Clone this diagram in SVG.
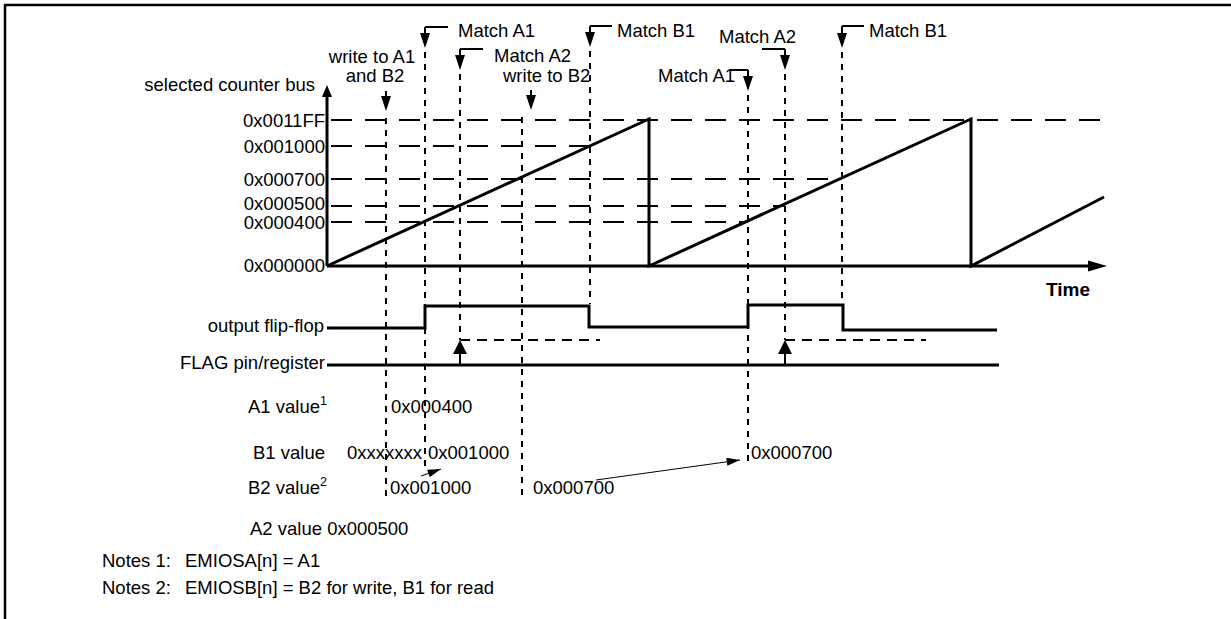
<svg xmlns="http://www.w3.org/2000/svg" width="1231" height="619" viewBox="0 0 1231 619">
<style>
text{font-family:"Liberation Sans",Arial,sans-serif;font-size:18.5px;fill:#000}
.sup{font-size:12.5px}
.b{font-weight:bold;font-size:19px}
.r{text-anchor:end}
.m{text-anchor:middle}
.frame{stroke:#000;stroke-width:2.5;fill:none}
.axis{stroke:#000;stroke-width:3;fill:none}
.wave{stroke:#000;stroke-width:3;fill:none;stroke-linejoin:miter}
.lvl{stroke:#000;stroke-width:2;stroke-dasharray:21 13;fill:none}
.vd{stroke:#000;stroke-width:2;stroke-dasharray:6 6;fill:none}
.hd{stroke:#000;stroke-width:2;stroke-dasharray:10 7;fill:none}
.ln{stroke:#000;stroke-width:2;fill:none}
.thin{stroke:#000;stroke-width:1;fill:none}
</style>
<defs>
<path id="hd" d="M-5,-15 L5,-15 L0,0 Z" fill="#000"/>
<path id="hu" d="M-7,14 L7,14 L0,0 Z" fill="#000"/>
<marker id="sa" viewBox="0 0 10 6" refX="10" refY="3" markerWidth="14" markerHeight="8" markerUnits="userSpaceOnUse" orient="auto">
<path d="M0,0 L10,3 L0,6 Z" fill="#000"/>
</marker>
</defs>

<g id="frame">
<path class="frame" d="M5,619 L5,5 L1231,5"/>
</g>

<g id="axes">
<path class="axis" d="M327,266 L327,96"/>
<path d="M322,97 L332,97 L327,85 Z" fill="#000"/>
<path class="axis" d="M327,266 L1090,266"/>
<path d="M1088,260.5 L1107,266 L1088,271.5 Z" fill="#000"/>
<text x="315" y="91" class="r">selected counter bus</text>
<text x="1046" y="296" class="b">Time</text>
</g>

<g id="levels">
<path class="lvl" d="M331,120 L1104,120"/>
<path class="lvl" d="M331,146 L590,146"/>
<path class="lvl" d="M331,179 L842,179"/>
<path class="lvl" d="M331,206 L785,206"/>
<path class="lvl" d="M331,222 L748,222"/>
<text x="325" y="127" class="r">0x0011FF</text>
<text x="325" y="153" class="r">0x001000</text>
<text x="325" y="186" class="r">0x000700</text>
<text x="325" y="210" class="r">0x000500</text>
<text x="325" y="229" class="r">0x000400</text>
<text x="325" y="272" class="r">0x000000</text>
</g>

<g id="counter">
<path class="wave" d="M327,266 L649,119 L649,266 L971,119 L971,266 L1104,197"/>
</g>

<g id="output-flip-flop">
<path class="wave" d="M327,328 L425,328 L425,306 L589,306 L589,327 L748,327 L748,305 L843,305 L843,330 L997,330"/>
<text x="324" y="332" class="r">output flip-flop</text>
</g>

<g id="flag">
<path class="wave" d="M327,365 L999,365"/>
<text x="325" y="369" class="r">FLAG pin/register</text>
</g>

<g id="connectors">
<g id="ev-write-a1b2">
<path class="ln" d="M386,91 L386,97"/>
<use href="#hd" x="386" y="111"/>
<path class="vd" d="M386,118 L386,498"/>
<text x="372" y="63" class="m">write to A1</text>
<text x="375" y="82" class="m">and B2</text>
</g>
<g id="ev-match-a1">
<path class="ln" d="M425,27 L448,27 M425,27 L425,34"/>
<use href="#hd" x="425" y="48"/>
<path class="vd" d="M425,52 L425,466"/>
<text x="458" y="37">Match A1</text>
</g>
<g id="ev-match-a2">
<path class="ln" d="M460,49 L483,49 M460,49 L460,56"/>
<use href="#hd" x="460" y="70"/>
<path class="vd" d="M460,74 L460,340"/>
<text x="494" y="62">Match A2</text>
</g>
<g id="ev-write-b2">
<path class="ln" d="M531,90 L531,96"/>
<use href="#hd" x="531" y="110"/>
<path class="vd" d="M522,117 L522,498"/>
<text x="503" y="82">write to B2</text>
</g>
<g id="ev-match-b1">
<path class="ln" d="M590,26 L612,26 M590,26 L590,33"/>
<use href="#hd" x="590" y="47"/>
<path class="vd" d="M590,51 L590,304"/>
<text x="617" y="37">Match B1</text>
</g>
<g id="ev-match-a1-2">
<path class="ln" d="M730,70 L748,70 M748,70 L748,77"/>
<use href="#hd" x="748" y="91"/>
<path class="vd" d="M748,95 L748,466"/>
<text x="658" y="82">Match A1</text>
</g>
<g id="ev-match-a2-2">
<path class="ln" d="M762,49 L785,49 M785,49 L785,56"/>
<use href="#hd" x="785" y="70"/>
<path class="vd" d="M785,74 L785,340"/>
<text x="719" y="43">Match A2</text>
</g>
<g id="ev-match-b1-2">
<path class="ln" d="M842,26 L864,26 M842,26 L842,33"/>
<use href="#hd" x="842" y="48"/>
<path class="vd" d="M842,52 L842,304"/>
<text x="869" y="37">Match B1</text>
</g>
<g id="flag-set">
<path class="hd" d="M460,340 L600,340"/>
<path class="ln" d="M460,365 L460,352"/>
<use href="#hu" x="460" y="340"/>
<path class="hd" d="M785,340 L926,340"/>
<path class="ln" d="M785,365 L785,352"/>
<use href="#hu" x="785" y="340"/>
</g>
<path class="thin" d="M421,476 L441,469" marker-end="url(#sa)"/>
<path class="thin" d="M596,480 L740,460" marker-end="url(#sa)"/>
</g>

<g id="values">
<text x="248" y="413">A1 value<tspan class="sup" dy="-8">1</tspan></text>
<text x="391" y="413">0x000400</text>
<text x="253" y="459">B1 value</text>
<text x="347" y="459">0xxxxxxx</text>
<text x="428" y="459">0x001000</text>
<text x="751" y="459">0x000700</text>
<text x="248" y="494">B2 value<tspan class="sup" dy="-8">2</tspan></text>
<text x="390" y="494">0x001000</text>
<text x="533" y="494">0x000700</text>
<text x="250" y="535">A2 value 0x000500</text>
</g>

<g id="notes">
<text x="102" y="567">Notes 1:</text>
<text x="185" y="567">EMIOSA[n] = A1</text>
<text x="102" y="594">Notes 2:</text>
<text x="185" y="594">EMIOSB[n] = B2 for write, B1 for read</text>
</g>
</svg>
